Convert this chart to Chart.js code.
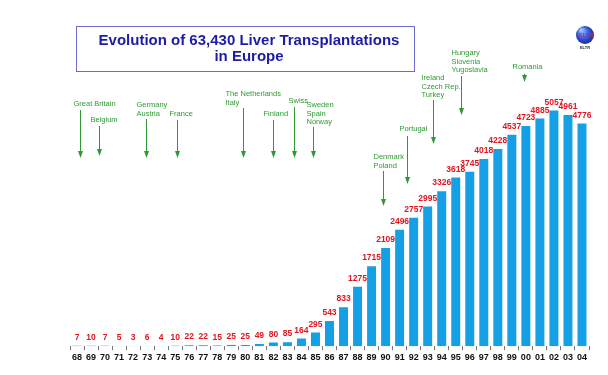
<!DOCTYPE html>
<html>
<head>
<meta charset="utf-8">
<script src="https://cdn.jsdelivr.net/npm/chart.js@4/dist/chart.umd.min.js"></script>
<style>
html,body{margin:0;padding:0;background:#fff;}
#wrap{position:absolute;left:0;top:0;width:608px;height:375px;}
</style>
</head>
<body>
<div id="wrap"><canvas id="c" width="608" height="375"></canvas></div>
<script>
const years = ['68','69','70','71','72','73','74','75','76','77','78','79','80','81','82','83','84','85','86','87','88','89','90','91','92','93','94','95','96','97','98','99','00','01','02','03','04'];
const transplants = [7,10,7,5,3,6,4,10,22,22,15,25,25,49,80,85,164,295,543,833,1275,1715,2109,2496,2757,2995,3326,3618,3745,4018,4228,4537,4723,4885,5057,4961,4776];
const titleLines = ['Evolution of 63,430 Liver Transplantations', 'in Europe'];
// country start annotations: text lines and the (fractional) category position of the arrow
const annotTexts = [
  ['Great Britain'], ['Belgium'], ['Germany','Austria'], ['France'],
  ['The Netherlands','Italy'], ['Finland'], ['Swiss'], ['Sweden','Spain','Norway'],
  ['Denmark','Poland'], ['Portugal'], ['Ireland','Czech Rep.','Turkey'],
  ['Hungary','Slovenia','Yugoslavia'], ['Romania']
];
const annotIndex = [0.2, 1.6, 4.9, 7.1, 11.8, 14.0, 15.5, 16.8, 21.8, 23.5, 25.4, 27.4, 31.9];

// layout for annotations (pixels): first text line y, arrow start y, arrow end y, text x offset
const annotLayout = [
  {ty:104, a0:110, a1:158, dx:-7},
  {ty:120, a0:126, a1:156, dx:-9},
  {ty:105, a0:119, a1:158, dx:-10},
  {ty:114, a0:120, a1:158, dx:-8},
  {ty:94,  a0:108, a1:158, dx:-18},
  {ty:114, a0:120, a1:158, dx:-10},
  {ty:101, a0:107, a1:158, dx:-6},
  {ty:105, a0:127, a1:158, dx:-7},
  {ty:157, a0:171, a1:206, dx:-10},
  {ty:129, a0:136, a1:184, dx:-8},
  {ty:78,  a0:100, a1:144, dx:-12},
  {ty:53,  a0:76,  a1:115, dx:-10},
  {ty:67,  a0:74,  a1:82,  dx:-12}
];

const GREEN = '#2f9a34';
const decor = {
  id:'decor',
  afterDatasetsDraw(chart){
    const ctx = chart.ctx;
    const meta = chart.getDatasetMeta(0);
    ctx.save();
    ctx.font = 'bold 8.5px "Liberation Sans", Arial, sans-serif';
    ctx.fillStyle = '#e3141f';
    ctx.textAlign = 'center';
    ctx.textBaseline = 'bottom';
    meta.data.forEach((bar,i)=>{
      ctx.fillText(String(transplants[i]), bar.x, bar.y - 4);
    });
    ctx.restore();
  },
  afterDraw(chart){
    const ctx = chart.ctx;
    const xs = chart.scales.x;
    ctx.save();
    // title box
    ctx.strokeStyle = '#6c6cd0';
    ctx.lineWidth = 1;
    ctx.strokeRect(76.5, 26.5, 338, 45);
    ctx.fillStyle = '#1c1ca6';
    ctx.font = 'bold 15px "Liberation Sans", Arial, sans-serif';
    ctx.textAlign = 'center';
    ctx.textBaseline = 'middle';
    ctx.fillText(titleLines[0], 249, 41);
    ctx.fillText(titleLines[1], 249, 57);
    // annotations
    ctx.font = '7.5px "Liberation Sans", Arial, sans-serif';
    ctx.textAlign = 'left';
    annotTexts.forEach((lines, k)=>{
      const L = annotLayout[k];
      const x = Math.round(xs.getPixelForValue(annotIndex[k])) + 0.5;
      ctx.fillStyle = GREEN;
      lines.forEach((t,j)=>{ ctx.fillText(t, x + L.dx, L.ty + j*8.5); });
      ctx.strokeStyle = GREEN;
      ctx.lineWidth = 1;
      ctx.beginPath();
      ctx.moveTo(x, L.a0);
      ctx.lineTo(x, L.a1 - 5);
      ctx.stroke();
      ctx.beginPath();
      ctx.moveTo(x - 2.5, L.a1 - 7);
      ctx.lineTo(x + 2.5, L.a1 - 7);
      ctx.lineTo(x, L.a1);
      ctx.closePath();
      ctx.fill();
    });
    // logo
    const g = ctx.createRadialGradient(581, 30, 1, 585, 35, 10);
    g.addColorStop(0, '#9cc0ff');
    g.addColorStop(0.55, '#2f57e0');
    g.addColorStop(1, '#16268c');
    ctx.fillStyle = g;
    ctx.beginPath();
    ctx.arc(585, 35, 9, 0, Math.PI*2);
    ctx.fill();
    ctx.fillStyle = '#e0203a';
    ctx.font = 'bold 6px "Liberation Sans", Arial, sans-serif';
    ctx.textAlign = 'center';
    ctx.textBaseline = 'middle';
    ctx.fillText('ELTR', 586, 35);
    ctx.fillStyle = '#333';
    ctx.font = 'bold 4px "Liberation Sans", Arial, sans-serif';
    ctx.fillText('ELTR', 585, 48);
    ctx.restore();
  }
};

new Chart(document.getElementById('c'), {
  type:'bar',
  data:{
    labels: years,
    datasets:[{
      data: transplants,
      backgroundColor:'#159fe4',
      borderWidth:0,
      barPercentage:0.64,
      categoryPercentage:1.0
    }]
  },
  options:{
    responsive:false,
    animation:false,
    devicePixelRatio:1,
    layout:{padding:{left:70, right:19, top:60, bottom:10}},
    plugins:{legend:{display:false}, tooltip:{enabled:false}, title:{display:false}},
    scales:{
      x:{
        grid:{display:true, drawOnChartArea:false, drawTicks:true, tickLength:4, color:'#777', offset:true},
        border:{display:false},
        ticks:{autoSkip:false, maxRotation:0, minRotation:0, padding:2, color:'#111',
               font:{family:'"Liberation Sans", Arial, sans-serif', size:9, weight:'bold'}}
      },
      y:{
        display:false,
        min:0,
        max:6140
      }
    }
  },
  plugins:[decor]
});
</script>
</body>
</html>
